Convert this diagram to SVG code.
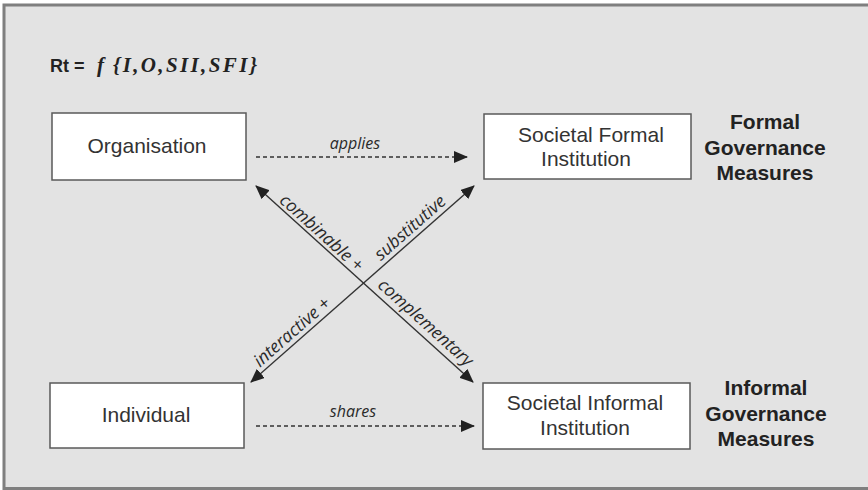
<svg xmlns="http://www.w3.org/2000/svg" width="868" height="490" viewBox="0 0 868 490">
  <style>
    .frame { fill: none; stroke: #7f7f7f; stroke-width: 3; }
    .box { fill: #ffffff; stroke: #5a5a5a; stroke-width: 1.5; }
    .label { font-family: "Liberation Sans", Arial, sans-serif; font-size: 21px; fill: #333333; text-anchor: middle; }
    .group { font-family: "Liberation Sans", Arial, sans-serif; font-size: 21px; font-weight: bold; fill: #222222; text-anchor: middle; }
    .rel { font-family: "Open Sans", "Liberation Sans", sans-serif; font-style: italic; font-size: 16px; fill: #2a2a2a; text-anchor: middle; }
    .rel-d { font-size: 17.5px; }
    .dash { fill: none; stroke: #333333; stroke-width: 1.3; stroke-dasharray: 4 3; }
    .diag { fill: none; stroke: #333333; stroke-width: 1.4; }
  </style>
  <defs>
    <marker id="head" markerUnits="userSpaceOnUse" markerWidth="14" markerHeight="12" refX="13" refY="6" orient="auto-start-reverse">
      <path d="M0,0 L14,6 L0,12 Z" fill="#222222"/>
    </marker>
  </defs>

  <rect x="0" y="0" width="868" height="490" fill="#ffffff"/>
  <rect x="4" y="5" width="864" height="483.5" fill="#e3e3e3"/>
  <path class="frame" d="M868,5 H4 V488.5 H868"/>

  <!-- formula -->
  <g id="formula">
    <text x="50" y="72" font-family="'Liberation Sans', Arial, sans-serif" font-size="18" font-weight="bold" fill="#222222">Rt =</text>
    <text x="97" y="72" font-family="'Liberation Serif', 'Times New Roman', serif" font-size="21" font-weight="bold" font-style="italic" fill="#222222">f</text>
    <text x="113" y="72" font-family="'Liberation Serif', 'Times New Roman', serif" font-size="21" font-weight="bold" font-style="italic" fill="#222222" textLength="144" lengthAdjust="spacing">{I,O,SII,SFI}</text>
  </g>

  <!-- nodes -->
  <g id="organisation">
    <rect class="box" x="52" y="113" width="194" height="67"/>
    <text class="label" x="147" y="153">Organisation</text>
  </g>
  <g id="societal-formal">
    <rect class="box" x="484" y="114" width="207" height="65"/>
    <text class="label" x="591" y="142">Societal Formal</text>
    <text class="label" x="586" y="166">Institution</text>
  </g>
  <g id="individual">
    <rect class="box" x="50" y="383" width="194" height="65"/>
    <text class="label" x="146" y="422">Individual</text>
  </g>
  <g id="societal-informal">
    <rect class="box" x="483" y="383" width="207" height="66"/>
    <text class="label" x="585" y="410">Societal Informal</text>
    <text class="label" x="585" y="435">Institution</text>
  </g>

  <!-- side headings -->
  <g id="formal-measures">
    <text class="group" x="765" y="129">Formal</text>
    <text class="group" x="765" y="155">Governance</text>
    <text class="group" x="765" y="180">Measures</text>
  </g>
  <g id="informal-measures">
    <text class="group" x="766" y="395">Informal</text>
    <text class="group" x="766" y="421">Governance</text>
    <text class="group" x="766" y="446">Measures</text>
  </g>

  <!-- connectors -->
  <g id="connectors">
    <line class="dash" x1="256" y1="157" x2="467" y2="157" marker-end="url(#head)"/>
    <text class="rel" x="355" y="149">applies</text>

    <line class="dash" x1="256" y1="426" x2="474" y2="426" marker-end="url(#head)"/>
    <text class="rel" x="353" y="417">shares</text>

    <line class="diag" x1="256" y1="186" x2="473" y2="382" marker-start="url(#head)" marker-end="url(#head)"/>
    <line class="diag" x1="474" y1="186" x2="251" y2="382" marker-start="url(#head)" marker-end="url(#head)"/>

    <text class="rel rel-d" transform="translate(321.7,232.5) rotate(42)" x="0" y="6">combinable +</text>
    <text class="rel rel-d" transform="translate(425.8,322.5) rotate(42)" x="0" y="6">complementary</text>
    <text class="rel rel-d" transform="translate(410,227.5) rotate(-41.3)" x="0" y="6">substitutive</text>
    <text class="rel rel-d" transform="translate(291.7,331.7) rotate(-41.3)" x="0" y="6">interactive +</text>
  </g>
</svg>
